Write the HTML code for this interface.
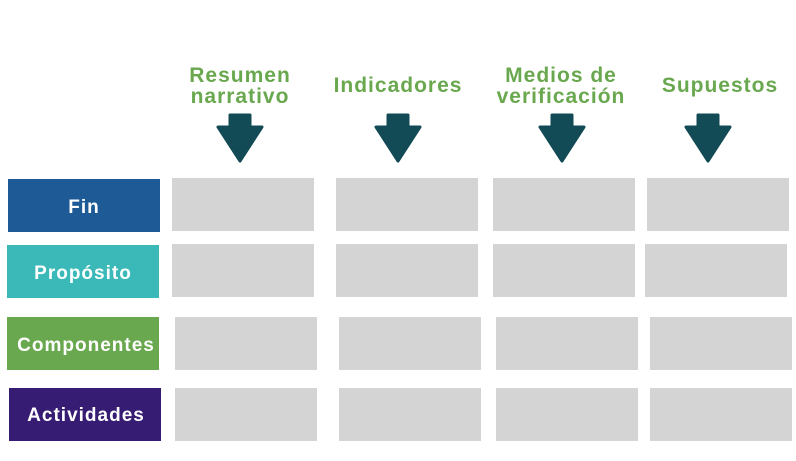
<!DOCTYPE html>
<html><head><meta charset="utf-8"><style>
body{margin:0;background:#fff;width:796px;height:456px;overflow:hidden}
</style></head><body>
<svg width="796" height="456" xmlns="http://www.w3.org/2000/svg" font-family="Liberation Sans, sans-serif" font-weight="bold">
<g fill="#6aa84f" font-size="21" text-anchor="middle" letter-spacing="1">
<text x="240" y="82">Resumen</text><text x="240" y="103">narrativo</text>
<text x="398" y="92">Indicadores</text>
<text x="561" y="82">Medios de</text><text x="561" y="103">verificación</text>
<text x="720" y="92">Supuestos</text>
</g>
<g fill="#124a55" stroke="#124a55" stroke-width="3" stroke-linejoin="round">
<path d="M-10,115 L10,115 L10,127 L22,127 L0,161 L-22,127 L-10,127 Z" transform="translate(240,0)"/>
<path d="M-10,115 L10,115 L10,127 L22,127 L0,161 L-22,127 L-10,127 Z" transform="translate(398,0)"/>
<path d="M-10,115 L10,115 L10,127 L22,127 L0,161 L-22,127 L-10,127 Z" transform="translate(562,0)"/>
<path d="M-10,115 L10,115 L10,127 L22,127 L0,161 L-22,127 L-10,127 Z" transform="translate(708,0)"/>
</g>
<rect x="8" y="179" width="152" height="53" fill="#1d5a96"/>
<rect x="7" y="245" width="152" height="53" fill="#3bb9b9"/>
<rect x="7" y="317" width="152" height="53" fill="#6aa84f"/>
<rect x="9" y="388" width="152" height="53" fill="#361c73"/>
<g fill="#fff" font-size="19" text-anchor="middle" letter-spacing="1">
<text x="84" y="213">Fin</text>
<text x="83" y="279">Propósito</text>
<text x="86" y="351">Componentes</text>
<text x="86" y="421">Actividades</text>
</g>
<g fill="#d4d4d4">
<rect x="172" y="178" width="142" height="53"/><rect x="336" y="178" width="142" height="53"/><rect x="493" y="178" width="142" height="53"/><rect x="647" y="178" width="142" height="53"/>
<rect x="172" y="244" width="142" height="53"/><rect x="336" y="244" width="142" height="53"/><rect x="493" y="244" width="142" height="53"/><rect x="645" y="244" width="142" height="53"/>
<rect x="175" y="317" width="142" height="53"/><rect x="339" y="317" width="142" height="53"/><rect x="496" y="317" width="142" height="53"/><rect x="650" y="317" width="142" height="53"/>
<rect x="175" y="388" width="142" height="53"/><rect x="339" y="388" width="142" height="53"/><rect x="496" y="388" width="142" height="53"/><rect x="650" y="388" width="142" height="53"/>
</g>
</svg>
</body></html>
